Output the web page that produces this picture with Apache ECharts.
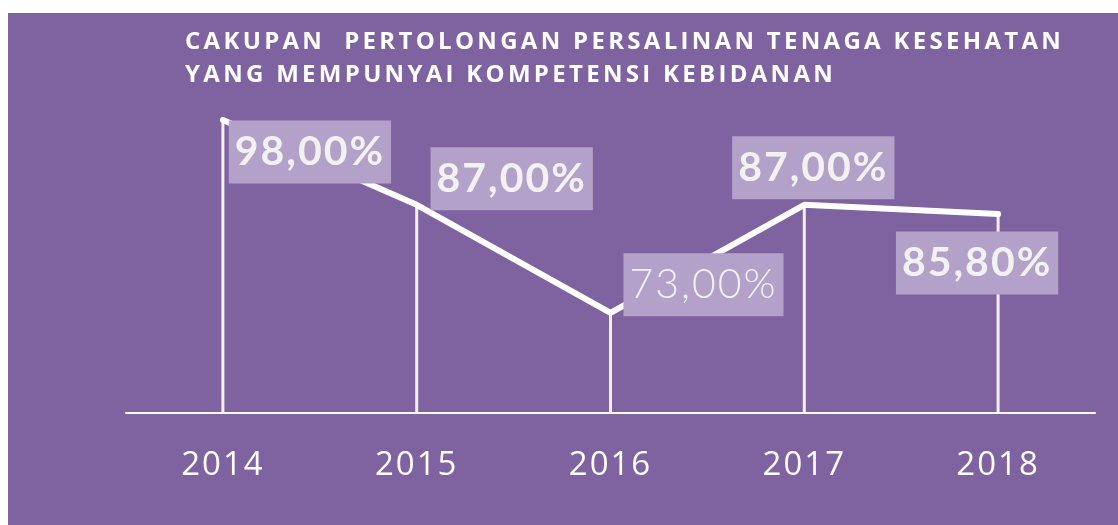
<!DOCTYPE html>
<html>
<head>
<meta charset="utf-8">
<script src="https://cdn.jsdelivr.net/npm/echarts@6/dist/echarts.min.js"></script>
<style>
  html, body { margin: 0; padding: 0; background: #fff; }
  #main { width: 1118px; height: 525px; }
</style>
</head>
<body>
<div id="main"></div>
<script>
var years = ['2014', '2015', '2016', '2017', '2018'];
var coverage = [98, 87, 73, 87, 85.8];
var titleLines = ['CAKUPAN  PERTOLONGAN PERSALINAN TENAGA KESEHATAN', 'YANG MEMPUNYAI KOMPETENSI KEBIDANAN'];

// where each value box sits relative to its point
var labelOffsets = [[87, 32], [95, -26], [93, -28], [9, -37], [-21, 49]];
var labelWeights = ['bold', 'bold', 300, 'bold', 'bold'];

// the original has tracked-out lettering in the title and year labels;
// echarts has no letterSpacing option so set it on the canvas context
var origFillText = CanvasRenderingContext2D.prototype.fillText;
CanvasRenderingContext2D.prototype.fillText = function (t, x, y, w) {
  var f = this.font || '';
  var prev = this.letterSpacing;
  if (f.indexOf('24px') >= 0) this.letterSpacing = '3.3px';
  else if (f.indexOf('33px') >= 0) this.letterSpacing = '2px';
  var r = w === undefined ? origFillText.call(this, t, x, y) : origFillText.call(this, t, x, y, w);
  this.letterSpacing = prev;
  return r;
};

var chart = echarts.init(document.getElementById('main'));

var lineData = coverage.map(function (v, i) {
  return {
    value: v,
    label: { offset: labelOffsets[i], fontWeight: labelWeights[i] }
  };
});

var option = {
  backgroundColor: '#ffffff',
  animation: false,
  graphic: [{
    type: 'rect',
    z: -10,
    shape: { x: 8, y: 13, width: 1110, height: 512 },
    style: { fill: '#7f63a1' }
  }],
  title: {
    text: titleLines.join('\n'),
    left: 180,
    top: 21,
    textStyle: {
      color: '#ffffff',
      fontFamily: 'Open Sans',
      fontWeight: 'bold',
      fontSize: 24,
      lineHeight: 33
    }
  },
  grid: { left: 126, right: 23, top: 120, bottom: 112 },
  xAxis: {
    type: 'category',
    data: years,
    boundaryGap: true,
    axisLine: { lineStyle: { color: '#ffffff', width: 2 } },
    axisTick: { show: false },
    axisLabel: {
      color: '#ffffff',
      fontFamily: 'Open Sans',
      fontSize: 33,
      margin: 36
    }
  },
  yAxis: {
    type: 'value',
    min: 60,
    max: 98,
    show: false,
    splitLine: { show: false }
  },
  series: [{
    type: 'bar',
    data: coverage,
    barWidth: 3,
    itemStyle: { color: 'rgba(255,255,255,0.9)' },
    silent: true,
    z: 1
  }, {
    type: 'line',
    data: lineData,
    symbol: 'circle',
    symbolSize: 4,
    showSymbol: true,
    itemStyle: { color: '#ffffff' },
    lineStyle: { color: '#ffffff', width: 6, cap: 'round', join: 'round' },
    z: 3,
    label: {
      show: true,
      position: 'inside',
      formatter: function (p) {
        return p.value.toFixed(2).replace('.', ',') + '%';
      },
      color: '#f2f2f2',
      fontFamily: 'Lato',
      fontSize: 41,
      backgroundColor: '#b3a1c9',
      padding: [11, 12, 11, 12]
    }
  }]
};

chart.setOption(option);
</script>
</body>
</html>
